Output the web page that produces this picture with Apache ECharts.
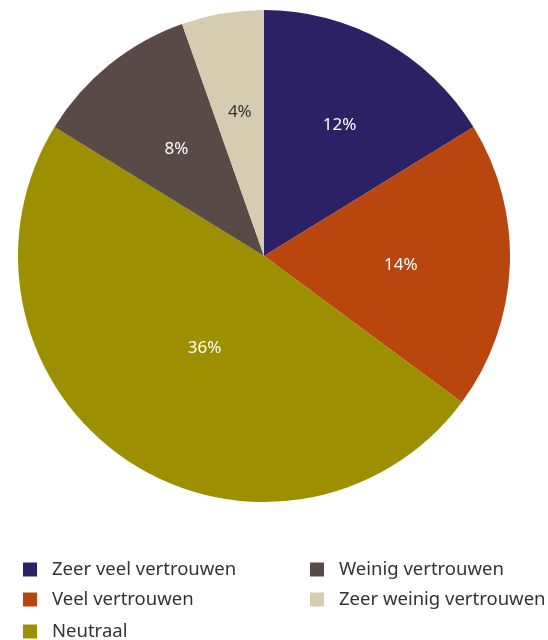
<!DOCTYPE html>
<html><head><meta charset="utf-8">
<script src="https://cdn.jsdelivr.net/npm/echarts@6/dist/echarts.min.js"></script>
<style>html,body{margin:0;padding:0;background:#fff}#c{width:548px;height:640px}</style>
</head><body><div id="c"></div>
<script>
const categories = ['Zeer veel vertrouwen','Veel vertrouwen','Neutraal','Weinig vertrouwen','Zeer weinig vertrouwen'];
const values = [12, 14, 36, 8, 4];
const colors = ['#2d2165','#b9450f','#9c8f00','#5a4a47','#d6ccb0'];
const labelColors = ['#ffffff','#ffffff','#ffffff','#ffffff','#333333'];
const labelRadius = [150, 133, 105, 138, 146];
const legendPos = [[23,569],[23,599],[23,631],[310,569],[310,599]];

const font = '"Noto Sans", "Open Sans", sans-serif';
const data = categories.map((n,i)=>({name:n,value:values[i],itemStyle:{color:colors[i]}}));

const labelSeries = categories.map((_,k)=>({
  type:'pie',center:[265,259],radius:[0,labelRadius[k]*2],startAngle:90,clockwise:true,silent:true,
  legendHoverLink:false,itemStyle:{color:'rgba(0,0,0,0)'},labelLine:{show:false},
  data:categories.map((n,i)=>({name:n,value:values[i],label:{show:i===k,color:labelColors[i]}})),
  label:{position:'inside',formatter:'{c}%',fontFamily:font,fontSize:17}
}));

const legendText = {fontFamily:font,fontSize:18.5,lineHeight:18,color:'#333',padding:[0,0,0,10]};
const legends = categories.map((n,i)=>({
  data:[n],orient:'horizontal',left:legendPos[i][0],top:legendPos[i][1]-9,padding:0,
  itemWidth:14,itemHeight:14,icon:'rect',textStyle:legendText,selectedMode:false
}));
const chart = echarts.init(document.getElementById('c'));
chart.setOption({
  animation:false,
  legend:legends,
  series:[
    {type:'pie',center:[264,256],radius:246,startAngle:90,clockwise:true,data:data,
     label:{show:false},labelLine:{show:false},itemStyle:{borderWidth:0},silent:true}
  ].concat(labelSeries)
});
</script></body></html>
